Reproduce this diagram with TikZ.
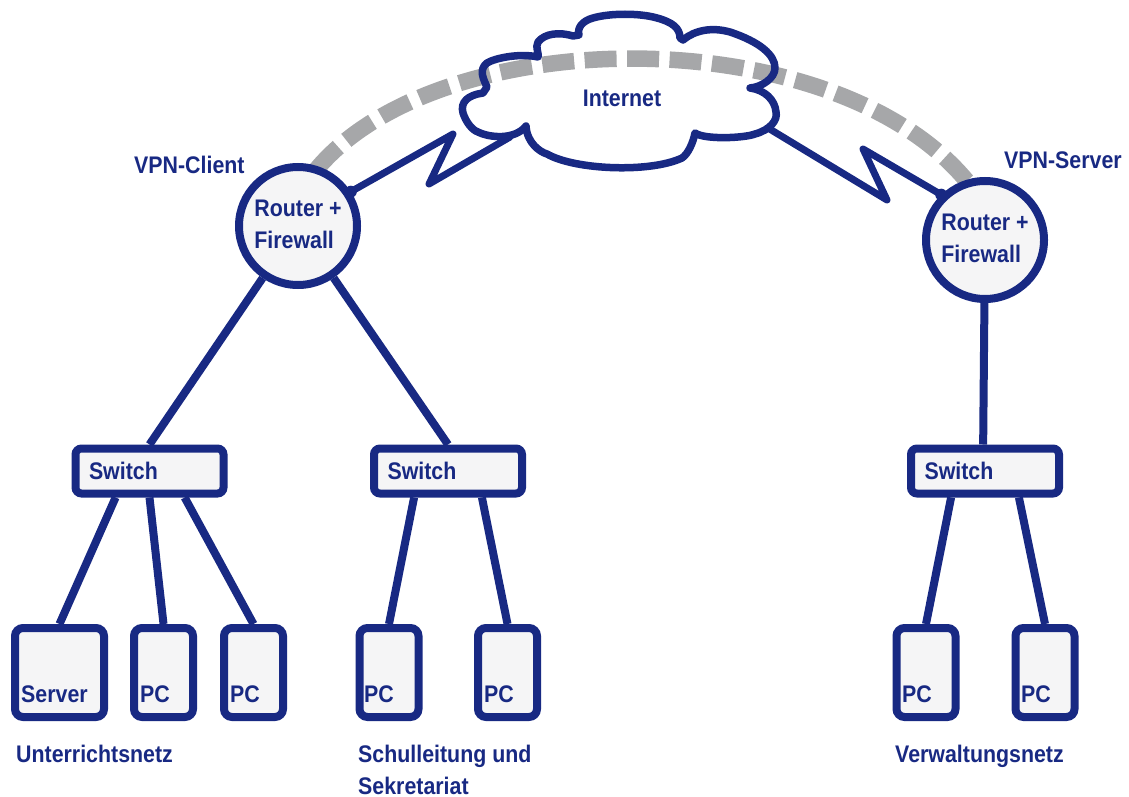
\documentclass[tikz,border=0pt]{standalone}
\usepackage{fontspec}
\setmainfont{Liberation Sans}[FakeStretch=0.89]
\usepackage{tikz}
\usetikzlibrary{positioning}
\definecolor{netblue}{RGB}{24,41,131}
\definecolor{netgray}{RGB}{166,167,169}
\definecolor{boxfill}{RGB}{245,245,246}
\tikzset{
lbl/.style={text=netblue,font=\bfseries\fontsize{24}{32}\selectfont,inner sep=0pt},
txt/.style={lbl,anchor=base west},
wire/.style={draw=netblue,line width=8pt},
wan/.style={draw=netblue,line width=7pt,line join=round,line cap=round},
router/.style={lbl,wire,fill=boxfill,circle,minimum size=118pt,align=left,text depth=4pt},
switch/.style={lbl,wire,fill=boxfill,rounded corners=6pt,minimum height=45pt,
text width=121pt,inner xsep=13.5pt,align=left},
pc/.style={wire,fill=boxfill,rounded corners=8pt,minimum width=59pt,minimum height=89pt,inner sep=0pt},
server/.style={pc,minimum width=89pt}
}
\begin{document}
\begin{tikzpicture}[x=1pt,y=-1pt]
\useasboundingbox (0,0) rectangle (1129,797);
\coordinate (al) at (316,170);
\coordinate (ar) at (970,185);
\draw[netgray,line width=16.5pt,dash pattern=on 32pt off 10.5pt]
(al) .. controls (440,20) and (838,18) .. (ar);

\node[router] (r1) at (298,226) {Router +\\Firewall};
\node[router] (r2) at (985,240) {Router +\\Firewall};
\node[switch] (s1) at (149.5,471) {Switch};
\node[switch] (s2) at (448,471) {Switch};
\node[switch] (s3) at (985,471) {Switch};
\node[server] (p1) at (59.5,672.5) {};
\node[pc] (p2) at (163.5,672.5) {};
\node[pc] (p3) at (253.5,672.5) {};
\node[pc] (p4) at (389,672.5) {};
\node[pc] (p5) at (507.5,672.5) {};
\node[pc] (p6) at (926,672.5) {};
\node[pc] (p7) at (1045,672.5) {};

\node[txt] (t1) at (21,702) {Server};
\node[txt] (t2) at (140,702) {PC};
\node[txt] (t3) at (230,702) {PC};
\node[txt] (t4) at (364,702) {PC};
\node[txt] (t5) at (484,702) {PC};
\node[txt] (t6) at (902,702) {PC};
\node[txt] (t7) at (1021,702) {PC};
\node[txt] (n1) at (16,762) {Unterrichtsnetz};
\node[txt] (n2) at (358,762) {Schulleitung und};
\node[txt] (n3) at (358,794) {Sekretariat};
\node[txt] (n4) at (895,762) {Verwaltungsnetz};
\node[txt] (vc) at (134,173) {VPN-Client};
\node[txt] (vs) at (1004,168) {VPN-Server};
\node[lbl] (inet) at (622,98) {Internet};

\draw[wire] (r1) -- (s1.north);
\draw[wire] (r1) -- (s2.north);
\draw[wire] (r2) -- (s3.94);
\draw[wire] (s1.-142) -- (p1.north);
\draw[wire] (s1.south) -- (p2.north);
\draw[wire] (s1.-37) -- (p3.north);
\draw[wire] (s2.-142) -- (p4.north);
\draw[wire] (s2.-38) -- (p5.north);
\draw[wire] (s3.-142) -- (p6.north);
\draw[wire] (s3.-38) -- (p7.north);

\draw[wan,line width=7.5pt]
(483,93) .. controls (468,95) and (460,102) .. (463,113)
.. controls (466,122) and (472,130) .. (478,132)
.. controls (490,138) and (515,140) .. (526,126)
.. controls (527,143) and (540,152) .. (547,154)
.. controls (575,170) and (650,173) .. (682,158)
.. controls (688,154) and (693,143) .. (695,133)
.. controls (705,140) and (745,138) .. (755,134)
.. controls (770,130) and (778,120) .. (776,112)
.. controls (775,100) and (765,90) .. (750,88)
.. controls (762,87) and (775,78) .. (775,68)
.. controls (775,55) and (760,42) .. (730,32)
.. controls (712,27) and (695,30) .. (683,40)
-- (680,38) .. controls (680,28) and (672,22) .. (657,18)
.. controls (640,13) and (610,13) .. (593,18)
.. controls (582,21) and (577,28) .. (579,35)
-- (573,36) .. controls (560,32) and (545,33) .. (538,42)
.. controls (535,48) and (539,52) .. (538,57)
.. controls (520,53) and (495,58) .. (487,63)
.. controls (478,70) and (484,80) .. (487,87)
-- (483,93);

\coordinate (c1) at (510,137);
\coordinate (k1) at (453,134);
\coordinate (k2) at (429,184);
\coordinate (c2) at (768,128);
\coordinate (k3) at (887,200);
\coordinate (k4) at (863,149);
\draw[wan] (r1.33) -- (k1) -- (k2) -- (c1);
\draw[wan] (c2) -- (k3) -- (k4) -- (r2.134);
\fill[netblue] (r1.33) circle (6pt);
\fill[netblue] (r2.134) circle (6pt);
\end{tikzpicture}
\end{document}
